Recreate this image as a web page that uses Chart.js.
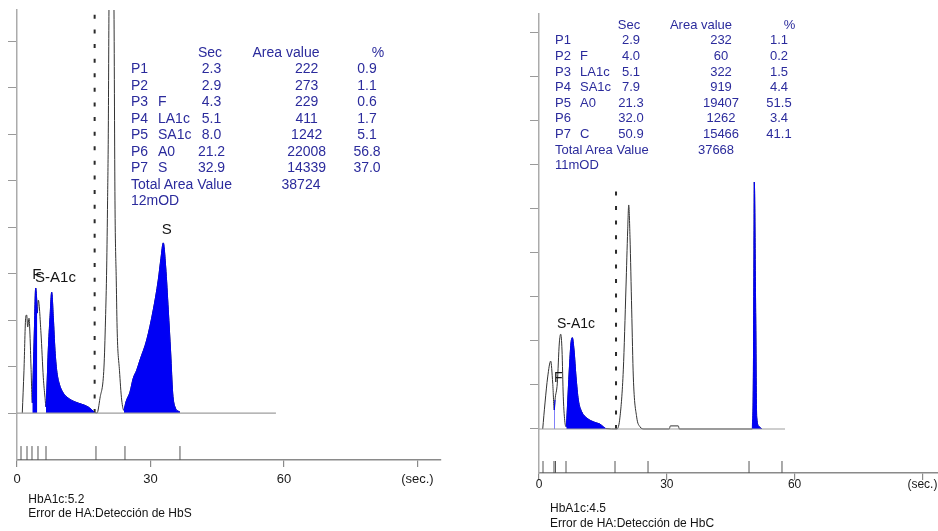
<!DOCTYPE html>
<html>
<head>
<meta charset="utf-8">
<title>HbA1c chromatograms</title>
<script src="https://cdn.jsdelivr.net/npm/chart.js@4.4.1/dist/chart.umd.min.js"></script>
<style>
  html, body { margin: 0; padding: 0; background: #fff; }
  #page { position: relative; width: 938px; height: 531px; overflow: hidden;
          font-family: "Liberation Sans", Arial, sans-serif; }
  #page canvas { position: absolute; top: 0; }
  .t { position: absolute; white-space: nowrap; line-height: 16px; }
  .blue { color: #2b2b9c; }
  .black { color: #141414; }
</style>
</head>
<body>
<div id="page">
  <canvas id="leftChart" width="460" height="531" style="left:0"></canvas>
  <canvas id="rightChart" width="418" height="531" style="left:520px"></canvas>
</div>
<script>
// ==============================
// Data - left run (HbS)
// ==============================
const leftTime = [
  1.19, 1.57, 1.96, 2.18, 2.40, 2.70, 2.92, 3.15, 3.44,
  3.66, 3.89, 4.20, 4.43, 4.56, 4.79, 5.39, 5.91, 6.29, 6.52,
  6.79, 7.03, 7.42, 7.80, 8.16, 8.54, 8.92, 9.44, 10.40, 11.53, 13.03, 14.54, 16.02, 17.37,
  17.98, 18.65, 19.55, 19.89, 20.16, 20.36, 20.52, 20.67, 21.2, 21.80, 22.02, 22.31, 22.53, 23.03, 23.53, 24.04,
  24.49, 25.39, 26.13, 26.90, 27.64, 29.15, 30.63, 31.75, 32.36, 32.88, 33.42, 34.0, 34.54, 34.99, 35.51, 36.63
];
const leftSignal = [
  0, 0.92, 2.06, 2.11, 1.85, 2.04, 1.68, 0.99, 0.22,
  0.92, 1.72, 2.69, 2.43, 2.15, 2.43, 1.72, 0.77, 0.34, 0.13,
  0.71, 1.35, 2.06, 2.60, 2.06, 1.35, 0.92, 0.65, 0.43, 0.32, 0.24, 0.19, 0.13, 0.02,
  0, 0.32, 0.99, 2.0, 3.14, 4.58, 6.02, 8.67, 14, 8.67, 4.58, 2.86, 1.72, 0.92, 0.28, 0.06,
  0.24, 0.45, 0.75, 0.92, 1.14, 1.57, 2.22, 2.86, 3.33, 3.66, 3.14, 2.22, 1.29, 0.43, 0.13, 0.02
];
// integrated (blue) windows, sec
const leftWindows = [[3.44, 4.56], [6.52, 17.37], [24.04, 36.63]];
// peak marks under the trace, sec
const leftMarks = [0.9, 2.25, 3.37, 4.72, 6.52, 17.75, 24.27, 36.63];
const leftCut = 17.45;

const leftPeaks = ["P1", "P2", "P3", "P4", "P5", "P6", "P7"];
const leftNames = ["", "", "F", "LA1c", "SA1c", "A0", "S"];
const leftSec = [2.3, 2.9, 4.3, 5.1, 8.0, 21.2, 32.9];
const leftArea = [222, 273, 229, 411, 1242, 22008, 14339];
const leftPct = [0.9, 1.1, 0.6, 1.7, 5.1, 56.8, 37.0];
const leftTotal = 38724;
const leftRange = "12mOD";
const leftHbA1c = 5.2;
const leftError = "Error de HA:Detección de HbS";

// ==============================
// Data - right run (HbC)
// ==============================
const rightTime = [
  0.87, 1.41, 2.04, 2.75, 3.22, 3.59, 3.76, 4.30, 4.77, 5.09, 5.40, 5.70, 6.10, 6.41,
  6.64, 7.11, 7.51, 7.82, 8.22, 8.69, 9.23, 10.02, 11.20, 12.37, 13.38, 14.32, 15.09, 15.66,
  18.31, 19.01, 19.79, 20.42, 20.82, 21.06, 21.36, 21.76, 22.14, 22.93, 23.71, 24.65,
  30.59, 30.83, 32.70, 32.93,
  50.07, 50.31, 50.47, 50.54, 50.87, 51.10, 51.71, 52.28
];
const rightSignal = [
  0, 0.59, 1.18, 1.54, 1.04, 0.43, 0.66, 1.04, 1.95, 2.15, 1.79, 0.73, 0.14, 0.05,
  0.43, 1.34, 1.95, 2.07, 1.79, 1.18, 0.66, 0.39, 0.25, 0.18, 0.14, 0.11, 0.05, 0.01,
  0, 0.27, 1.34, 3.22, 4.51, 5.08, 4.35, 2.70, 1.18, 0.27, 0.05, 0,
  0, 0.07, 0.07, 0,
  0, 1.04, 4.06, 5.60, 2.54, 0.27, 0.05, 0
];
const rightWindows = [[3.59, 3.76], [6.41, 15.66], [50.07, 52.28]];
const rightMarks = [0.94, 3.52, 3.87, 6.34, 17.84, 25.59, 49.3, 57.04];
const rightCut = 18.08;

const rightPeaks = ["P1", "P2", "P3", "P4", "P5", "P6", "P7"];
const rightNames = ["", "F", "LA1c", "SA1c", "A0", "", "C"];
const rightSec = [2.9, 4.0, 5.1, 7.9, 21.3, 32.0, 50.9];
const rightArea = [232, 60, 322, 919, 19407, 1262, 15466];
const rightPct = [1.1, 0.2, 1.5, 4.4, 51.5, 3.4, 41.1];
const rightTotal = 37668;
const rightRange = "11mOD";
const rightHbA1c = 4.5;
const rightError = "Error de HA:Detección de HbC";

// shared axis ticks
const secTicks = [0, 30, 60, 90];

// ==============================
// Layout (positions only)
// ==============================
const FONT = "'Liberation Sans', Arial, sans-serif";

const leftLayout = {
  yMin: -1.01, yMax: 8.67, yTicks: [0, 1, 2, 3, 4, 5, 6, 7, 8],
  xMax: 95.3, yAxisW: 17, xAxisH: 71, padTop: 10, padRight: 19,
  markTop: -0.71, baseEnd: 58.2, cutTop: 8.67,
  tickFont: 13, tickPad: 5,
  labelFont: 15,
  labels: [
    { text: "S", x: 33.64, y: 3.95 },
    { text: "S-A1c", x: 8.65, y: 2.91 },
    { text: "F", x: 4.45, y: 2.97 }
  ]
};
const rightLayout = {
  yMin: -0.998, yMax: 9.41, yTicks: [0, 1, 2, 3, 4, 5, 6, 7, 8, 9],
  xMax: 93.66, yAxisW: 19, xAxisH: 58, padTop: 14, padRight: 0,
  markTop: -0.726, baseEnd: 57.75, cutTop: 5.49,
  tickFont: 12, tickPad: -3,
  labelFont: 14,
  labels: [
    { text: "S-A1c", x: 8.69, y: 2.37 },
    { text: "F", x: 4.53, y: 1.15 }
  ]
};

// ==============================
// Peak label plugin
// ==============================
const peakLabels = {
  id: "peakLabels",
  afterDatasetsDraw(chart, args, opts) {
    const { ctx, scales: { x, y } } = chart;
    ctx.save();
    ctx.font = opts.size + "px " + FONT;
    ctx.fillStyle = "#141414";
    ctx.textAlign = "center";
    ctx.textBaseline = "middle";
    opts.items.forEach(it => {
      ctx.fillText(it.text, x.getPixelForValue(it.x), y.getPixelForValue(it.y));
    });
    ctx.restore();
  }
};

// ==============================
// Chart
// ==============================
function buildChart(id, time, signal, windows, marks, cut, L) {
  const trace = time.map((t, i) => ({ x: t, y: signal[i] }));

  const blue = windows.map(([a, b]) => ({
    data: trace.filter(p => p.x >= a && p.x <= b),
    borderColor: "#0000f5",
    borderWidth: 1,
    backgroundColor: "#0000f5",
    fill: "origin",
    cubicInterpolationMode: "monotone",
    order: 1
  }));

  const markData = marks.flatMap(t => [
    { x: t, y: L.yMin }, { x: t, y: L.markTop }, { x: t, y: null }
  ]);

  return new Chart(document.getElementById(id), {
    type: "line",
    data: {
      datasets: [
        {
          data: [{ x: 0, y: 0 }, { x: L.baseEnd, y: 0 }],
          borderColor: "#9e9e9e", borderWidth: 1.2, order: 0
        },
        ...blue,
        {
          data: trace,
          borderColor: "#333333", borderWidth: 1,
          cubicInterpolationMode: "monotone", order: 2
        },
        {
          data: [{ x: cut, y: 0 }, { x: cut, y: L.cutTop }],
          borderColor: "#2a2a2a", borderWidth: 2, borderDash: [4, 10.6], order: 3
        },
        {
          data: markData,
          borderColor: "#555555", borderWidth: 1, order: 4
        }
      ]
    },
    options: {
      responsive: false,
      animation: false,
      events: [],
      elements: { point: { radius: 0 } },
      layout: { padding: { top: L.padTop, right: L.padRight, left: 0, bottom: 0 } },
      plugins: {
        legend: { display: false },
        tooltip: { enabled: false },
        peakLabels: { items: L.labels, size: L.labelFont }
      },
      scales: {
        x: {
          type: "linear", min: 0, max: L.xMax,
          border: { color: "#8a8a8a", width: 1.5 },
          grid: { drawOnChartArea: false, tickLength: 7, color: "#8a8a8a", lineWidth: 1.2 },
          ticks: {
            color: "#1a1a1a",
            font: { family: FONT, size: L.tickFont },
            padding: L.tickPad,
            maxRotation: 0,
            autoSkip: false,
            callback: v => (v === 90 ? "(sec.)" : String(v))
          },
          afterBuildTicks: s => { s.ticks = secTicks.map(v => ({ value: v })); },
          afterFit: s => { s.height = L.xAxisH; s.paddingLeft = 0; s.paddingRight = 0; }
        },
        y: {
          type: "linear", min: L.yMin, max: L.yMax,
          border: { color: "#ababab", width: 1.5 },
          grid: { drawOnChartArea: false, tickLength: 9, color: "#9a9a9a" },
          ticks: { display: false },
          afterBuildTicks: s => { s.ticks = L.yTicks.map(v => ({ value: v })); },
          afterFit: s => { s.width = L.yAxisW; }
        }
      }
    },
    plugins: [peakLabels]
  });
}

// ==============================
// Result tables (HTML text)
// ==============================
const page = document.getElementById("page");

function addText(text, x, y, cls, size, center) {
  const d = document.createElement("div");
  d.className = "t " + cls;
  d.textContent = text;
  d.style.fontSize = size + "px";
  d.style.top = (y - 8) + "px";
  d.style.left = x + "px";
  if (center) d.style.transform = "translateX(-50%)";
  page.appendChild(d);
}

function buildTable(T, peaks, names, sec, area, pct, total, range) {
  addText("Sec", T.headSecX, T.headY, "blue", T.size, true);
  addText("Area value", T.headAreaX, T.headY, "blue", T.size, true);
  addText("%", T.headPctX, T.headY, "blue", T.size, true);
  peaks.forEach((p, i) => {
    const y = T.rowY + T.rowStep * i;
    addText(p, T.pX, y, "blue", T.size, false);
    if (names[i]) addText(names[i], T.nameX, y, "blue", T.size, false);
    addText(sec[i].toFixed(1), T.secX, y, "blue", T.size, true);
    addText(String(area[i]), T.areaX, y, "blue", T.size, true);
    addText(pct[i].toFixed(1), T.pctX, y, "blue", T.size, true);
  });
  const yT = T.rowY + T.rowStep * peaks.length;
  addText("Total Area Value", T.pX, yT, "blue", T.size, false);
  addText(String(total), T.totalX, yT, "blue", T.size, true);
  addText(range, T.pX, yT + T.rowStep, "blue", T.size, false);
}

const leftTable = {
  headY: 51.5, rowY: 68, rowStep: 16.55, size: 14,
  pX: 131, nameX: 158, secX: 211.5, areaX: 306.7, pctX: 367,
  headSecX: 210, headAreaX: 286, headPctX: 378, totalX: 301
};
const rightTable = {
  headY: 24.7, rowY: 40.3, rowStep: 15.6, size: 13,
  pX: 555, nameX: 580, secX: 631, areaX: 721, pctX: 779,
  headSecX: 629, headAreaX: 701, headPctX: 789.5, totalX: 716
};

buildChart("leftChart", leftTime, leftSignal, leftWindows, leftMarks, leftCut, leftLayout);
buildChart("rightChart", rightTime, rightSignal, rightWindows, rightMarks, rightCut, rightLayout);

buildTable(leftTable, leftPeaks, leftNames, leftSec, leftArea, leftPct, leftTotal, leftRange);
buildTable(rightTable, rightPeaks, rightNames, rightSec, rightArea, rightPct, rightTotal, rightRange);

addText("HbA1c:" + leftHbA1c.toFixed(1), 28.3, 499, "black", 12, false);
addText(leftError, 28.3, 512.5, "black", 12, false);
addText("HbA1c:" + rightHbA1c.toFixed(1), 550, 507.5, "black", 12, false);
addText(rightError, 550, 523, "black", 12, false);
</script>
</body>
</html>
